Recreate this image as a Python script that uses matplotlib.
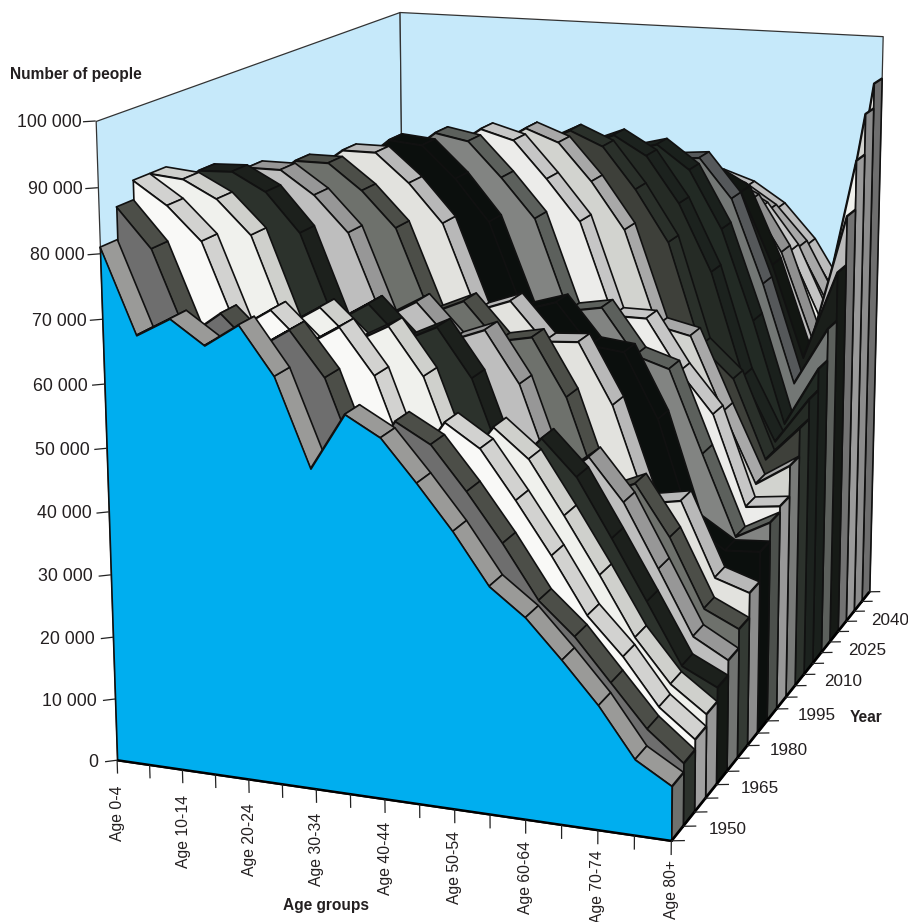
"""3D area chart of population by age group and year, 1950-2050."""

import matplotlib

matplotlib.use("Agg")
import matplotlib.pyplot as plt
import numpy as np
from mpl_toolkits.mplot3d import proj3d
from mpl_toolkits.mplot3d.art3d import Line3DCollection, Poly3DCollection

plt.rcParams["font.family"] = ["Liberation Sans", "DejaVu Sans"]

AGE_LABELS = ["Age 0-4", "Age 10-14", "Age 20-24", "Age 30-34", "Age 40-44",
              "Age 50-54", "Age 60-64", "Age 70-74", "Age 80+"]
YEAR_LABELS = ["1950", "1965", "1980", "1995", "2010", "2025", "2040"]
VALUE_LABELS = ["0", "10 000", "20 000", "30 000", "40 000", "50 000",
                "60 000", "70 000", "80 000", "90 000", "100 000"]

# people in millions, one list per year, one value per 5-year age group
POP_1950 = [81, 68, 71, 67.4, 71, 63.7, 50.2, 59, 56, 49.7, 43, 35.3, 31.2, 25.4, 19.2, 11.7, 8.4]
POP_1955 = [86, 80, 67, 71, 66, 69.4, 62.6, 48.7, 57, 54, 47.4, 40.1, 32, 27.1, 20.7, 14.3, 9.8]
POP_1960 = [89, 85.5, 80.4, 67.3, 70.7, 65.7, 69, 62, 48, 55.9, 52.4, 45, 37.1, 28.5, 22.8, 15.7, 11.4]
POP_1965 = [89, 88.5, 85.8, 80.6, 67, 70.3, 65.4, 68.3, 61, 47, 54.2, 49.8, 41.6, 33, 23.9, 17.3, 13.3]
POP_1970 = [85, 88.8, 89, 86.2, 80.2, 66.7, 70, 64.7, 67.3, 59.8, 45.6, 51.5, 46, 37, 27.7, 18.2, 15.5]
POP_1975 = [80, 85, 88.6, 88.6, 85, 79.5, 66.4, 69.5, 63.9, 66, 58, 43.3, 47.6, 41, 31.1, 21, 17.9]
POP_1980 = [76, 80.5, 85, 89, 89, 85, 79.5, 66.4, 68.8, 62.9, 64, 55, 40, 42.4, 34.4, 23.6, 21]
POP_1985 = [75, 76.5, 80.5, 86, 90, 90, 85.5, 79.5, 66, 68, 62, 62.4, 52.8, 37.6, 38.6, 26.8, 25]
POP_1990 = [74, 75.5, 77, 81.5, 86.5, 91, 90.5, 85.5, 79, 65.3, 67, 60.5, 59.9, 49.6, 33, 29.5, 29.9]
POP_1995 = [69, 74.5, 76, 78, 82, 87.3, 91.5, 90.5, 85, 78.8, 64.3, 65.3, 58, 56.3, 43, 30, 33]
POP_2000 = [66, 69.5, 75, 77, 79, 83, 87.7, 91.5, 90, 84.1, 77.6, 62.7, 62.7, 54.5, 48, 33.3, 34]
POP_2005 = [66, 66.5, 70, 76, 78, 79.5, 83, 87.7, 91, 89, 83, 75.5, 60.2, 59, 47, 35.5, 39.1]
POP_2010 = [67, 66.5, 67, 71, 77, 79, 80, 83, 87.3, 90, 87.7, 81, 72.7, 56, 51, 38, 43.8]
POP_2015 = [68, 67.5, 67, 68, 72, 78, 79.4, 79.5, 83, 86.4, 88.6, 85.5, 78, 67, 50, 39.5, 47.2]
POP_2020 = [67, 68.5, 68, 68, 69, 73, 78.4, 79, 79, 82, 85, 86.4, 82.5, 73, 58, 41, 50.9]
POP_2025 = [66, 67.5, 69, 69, 69, 70, 73.4, 78, 79, 79, 81, 83, 83.5, 77, 63, 46.5, 56.3]
POP_2030 = [65, 66.5, 68, 70, 70, 70, 70.4, 73.4, 78, 78.2, 77.8, 79.6, 80, 77, 65, 49.5, 64.6]
POP_2035 = [66, 65.5, 67, 69, 71, 71, 70.4, 70.4, 73, 77.2, 77, 77, 77, 74.5, 66, 51.5, 73]
POP_2040 = [66, 66.5, 66, 68, 70, 72, 71.4, 70.4, 70, 72.3, 76.5, 76, 75, 72, 65, 53.5, 81.4]
POP_2045 = [66, 66.5, 67, 67, 69, 71, 72.4, 71.4, 70, 69.3, 74, 76, 74, 70.5, 64.5, 54.5, 88.4]
POP_2050 = [66, 66.5, 67, 68, 68, 70, 71.4, 72.4, 71, 71, 73, 75, 73.2, 69.7, 63.7, 55, 92.7]

SERIES = [POP_1950, POP_1955, POP_1960, POP_1965, POP_1970, POP_1975, POP_1980,
          POP_1985, POP_1990, POP_1995, POP_2000, POP_2005, POP_2010, POP_2015,
          POP_2020, POP_2025, POP_2030, POP_2035, POP_2040, POP_2045, POP_2050]

# one shade per series for the front face, the top and the age 80+ end
FRONT = ["#00aeef", "#6e6e6e", "#f9f9f7", "#f0f1ed", "#2c322c", "#bebebe", "#6e716c",
         "#e2e2de", "#0b0f0d", "#828482", "#ececea", "#d2d3cf", "#3e403a", "#252b25",
         "#222a24", "#737775", "#1a1e1a", "#bbbbbb", "#f0f1ed", "#d2d3cf", "#e8e8e4"]
TOP = ["#9a9a98", "#4c4e48", "#d2d2d0", "#cfd0cc", "#1c201c", "#979797", "#4c4e48",
       "#b8b8b8", "#0b0f0d", "#5c605c", "#c6c6c6", "#a8a8a8", "#2a302a", "#1c221e",
       "#1a201c", "#55585a", "#121612", "#909090", "#c4c4c4", "#a8a8a8", "#bcbcbc"]
SIDE = ["#6e716e", "#2c322c", "#a0a0a0", "#969696", "#151915", "#727472", "#343a34",
        "#8c8c8c", "#0b0f0d", "#4c504c", "#989898", "#787a78", "#2c322c", "#1c221e",
        "#1a201c", "#5c605c", "#161a16", "#727272", "#9a9a9a", "#8c8c8c", "#6e6e6e"]

WALL = "#c6e9fa"
INK = "#111111"
TEXT = "#231f20"
N_AGE = 16
N_YEAR = 21
Z_TOP = 100

# where corners of the chart box land on the 908x922 picture (age, series, value) -> (px, py)
CORNERS = [
    ((0, 0, 0), (118, 760)),
    ((N_AGE, 0, 0), (670, 842)),
    ((0, 0, Z_TOP), (96, 120)),
    ((0, N_YEAR, Z_TOP), (399, 12)),
    ((N_AGE, N_YEAR, Z_TOP), (883, 37)),
    ((N_AGE, N_YEAR, 0), (870, 590)),
    ((0, N_YEAR, 0), (405, 540)),
]


def _solve_camera() -> np.ndarray:
    """Direct linear transform from the unit box to picture coords / 1000."""
    rows = []
    for (x, y, z), (u, v) in CORNERS:
        p = [x / N_AGE, y / N_YEAR, z / Z_TOP, 1.0]
        u, v = u / 1000, v / 1000
        rows.append(p + [0, 0, 0, 0] + [-u * c for c in p])
        rows.append([0, 0, 0, 0] + p + [-v * c for c in p])
    P = np.linalg.svd(np.array(rows))[2][-1].reshape(3, 4)
    return P / P[2, 3]


fig = plt.figure(figsize=(9.08, 9.22), dpi=100)
ax = fig.add_axes([0, 0, 1, 1], projection="3d", computed_zorder=False)
ax.set_axis_off()
ax.set_autoscale_on(False)
ax.set_xlim(0, N_AGE)
ax.set_ylim(0, N_YEAR)
ax.set_zlim(0, Z_TOP)
ax.apply_aspect()

CAMERA = _solve_camera()


def _get_proj() -> np.ndarray:
    # the reference has a shifted lens, which view_init can't do, so set the matrix directly
    to_unit = np.diag([1 / N_AGE, 1 / N_YEAR, 1 / Z_TOP, 1.0])
    to_disp = np.array([[1000.0, 0, 0], [0, -1000.0, 922], [0, 0, 1]])
    to_view = ax.transData.inverted().get_matrix() @ to_disp
    P = to_view @ CAMERA @ to_unit
    return np.vstack([P[0], P[1], P[2] - [0, 0, 0, 0.5], P[2]])


ax.get_proj = _get_proj


def add_polys(polys, color, zorder, edge=INK, lw=1.2):
    col = Poly3DCollection(polys, facecolors=color, edgecolors=edge, linewidths=lw,
                           joinstyle="round", zorder=zorder)
    ax.add_collection3d(col, autolim=False)


def add_lines(segments, color, lw):
    col = Line3DCollection(segments, colors=color, linewidths=lw, zorder=200)
    ax.add_collection3d(col, autolim=False)


def label_at(x, y, z, text, **kwargs):
    # flat text placed at a box position, so it stays upright whatever the lens does
    vx, vy, _ = proj3d.proj_transform(x, y, z, ax.get_proj())
    ax.text2D(vx, vy, text, transform=ax.transData, color=TEXT, zorder=201, **kwargs)


# walls
add_polys([[(0, 0, 0), (0, N_YEAR, 0), (0, N_YEAR, Z_TOP), (0, 0, Z_TOP)]], WALL, 1, "#333333", 0.9)
add_polys([[(0, N_YEAR, 0), (N_AGE, N_YEAR, 0), (N_AGE, N_YEAR, Z_TOP), (0, N_YEAR, Z_TOP)]], WALL, 2, "#333333", 0.9)

# series from the back to the front, each one top, then front face, then end
ages = np.arange(N_AGE + 1)
for k in range(N_YEAR - 1, -1, -1):
    vals = SERIES[k]
    base = 10 + 3 * (N_YEAR - 1 - k)
    tops = [[(i, k, vals[i]), (i + 1, k, vals[i + 1]), (i + 1, k + 1, vals[i + 1]), (i, k + 1, vals[i])]
            for i in range(N_AGE)]
    add_polys(tops, TOP[k], base)
    front = [(0, k, 0)] + [(i, k, vals[i]) for i in ages] + [(N_AGE, k, 0)]
    add_polys([front], FRONT[k], base + 1)
    add_polys([[(N_AGE, k, 0), (N_AGE, k + 1, 0), (N_AGE, k + 1, vals[-1]), (N_AGE, k, vals[-1])]],
              SIDE[k], base + 2)

# axis lines and ticks
add_lines([[(0, 0, 0), (N_AGE, 0, 0)], [(N_AGE, 0, 0), (N_AGE, N_YEAR, 0)]], "black", 1.7)
ticks = [[(0, 0, z), (-0.26, -0.216, z)] for z in range(0, Z_TOP + 1, 10)]
ticks += [[(i, 0, 0), (i, 0, -2.2)] for i in range(N_AGE + 1)]
ticks += [[(N_AGE, k, 0), (N_AGE + 0.325, k + 0.135, 0)] for k in range(N_YEAR + 1)]
add_lines(ticks, "#222222", 0.9)

for i, z in enumerate(range(0, Z_TOP + 1, 10)):
    label_at(-0.42 + 0.0017 * z, -0.33, z, VALUE_LABELS[i], ha="right", va="center", fontsize=12.8)
for i in range(0, N_AGE + 1, 2):
    label_at(i, 0, -4.2 + 0.075 * i, AGE_LABELS[i // 2], rotation=90, ha="center", va="top", fontsize=11.3)
for j, label in enumerate(YEAR_LABELS):
    k = 3 * j + 0.5
    label_at(N_AGE + 0.86 - 0.009 * k, k, 1.4 - 0.095 * k, label, ha="left", va="center", fontsize=12.3)

title_font = {"fontweight": "bold", "fontsize": 11.2, "color": TEXT}
fig.text(10 / 908, 1 - 75 / 922, "Number of people", ha="left", va="center", **title_font)
fig.text(850 / 908, 1 - 717 / 922, "Year", ha="left", va="center", **title_font)
fig.text(326 / 908, 1 - 905 / 922, "Age groups", ha="center", va="center", **title_font)

fig.savefig("out.png", dpi=100)
